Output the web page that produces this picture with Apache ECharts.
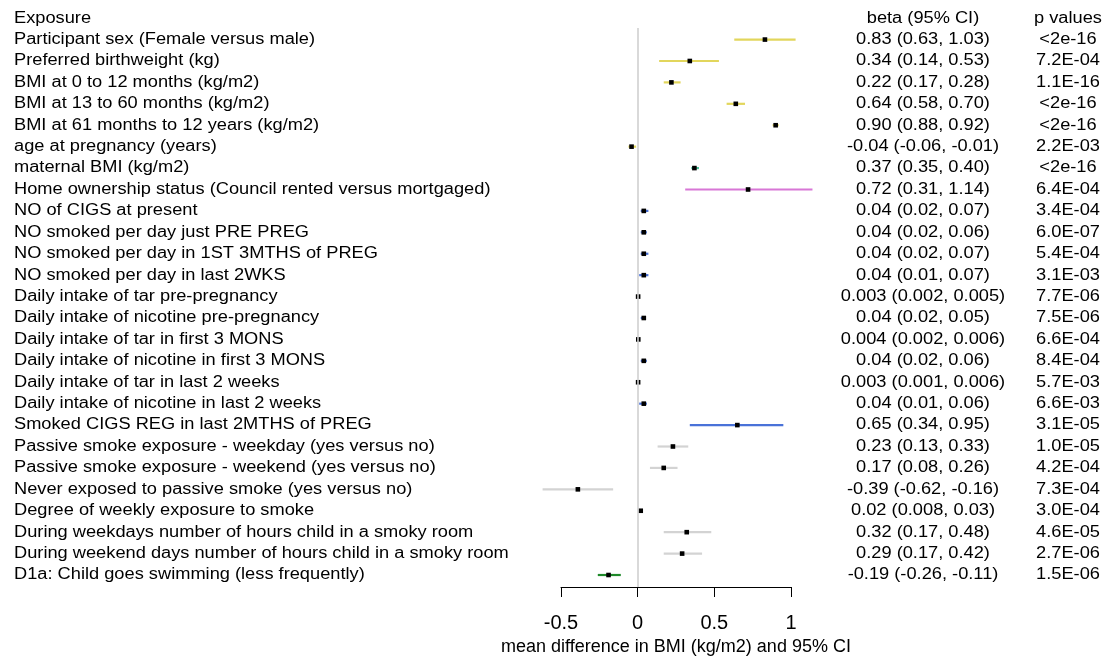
<!DOCTYPE html>
<html><head><meta charset="utf-8">
<script src="https://cdn.jsdelivr.net/npm/echarts@6/dist/echarts.min.js"></script>
<style>html,body{margin:0;padding:0;background:#fff}#c{width:1110px;height:657px}</style>
</head><body><div id="c"></div>
<script>
const exposures = [
  "Participant sex (Female versus male)",
  "Preferred birthweight (kg)",
  "BMI at 0 to 12 months (kg/m2)",
  "BMI at 13 to 60 months (kg/m2)",
  "BMI at 61 months to 12 years (kg/m2)",
  "age at pregnancy (years)",
  "maternal BMI (kg/m2)",
  "Home ownership status (Council rented versus mortgaged)",
  "NO of CIGS at present",
  "NO smoked per day just PRE PREG",
  "NO smoked per day in 1ST 3MTHS of PREG",
  "NO smoked per day in last 2WKS",
  "Daily intake of tar pre-pregnancy",
  "Daily intake of nicotine pre-pregnancy",
  "Daily intake of tar in first 3 MONS",
  "Daily intake of nicotine in first 3 MONS",
  "Daily intake of tar in last 2 weeks",
  "Daily intake of nicotine in last 2 weeks",
  "Smoked CIGS REG in last 2MTHS of PREG",
  "Passive smoke exposure - weekday (yes versus no)",
  "Passive smoke exposure - weekend (yes versus no)",
  "Never exposed to passive smoke (yes versus no)",
  "Degree of weekly exposure to smoke",
  "During weekdays number of hours child in a smoky room",
  "During weekend days number of hours child in a smoky room",
  "D1a: Child goes swimming (less frequently)"
];
const beta  = [0.83, 0.34, 0.22, 0.64, 0.90, -0.04, 0.37, 0.72, 0.04, 0.04, 0.04, 0.04, 0.003, 0.04, 0.004, 0.04, 0.003, 0.04, 0.65, 0.23, 0.17, -0.39, 0.02, 0.32, 0.29, -0.19];
const lower = [0.63, 0.14, 0.17, 0.58, 0.88, -0.06, 0.35, 0.31, 0.02, 0.02, 0.02, 0.01, 0.002, 0.02, 0.002, 0.02, 0.001, 0.01, 0.34, 0.13, 0.08, -0.62, 0.008, 0.17, 0.17, -0.26];
const upper = [1.03, 0.53, 0.28, 0.70, 0.92, -0.01, 0.40, 1.14, 0.07, 0.06, 0.07, 0.07, 0.005, 0.05, 0.006, 0.06, 0.006, 0.06, 0.95, 0.33, 0.26, -0.16, 0.03, 0.48, 0.42, -0.11];
const betaText = [
  "0.83 (0.63, 1.03)", "0.34 (0.14, 0.53)", "0.22 (0.17, 0.28)", "0.64 (0.58, 0.70)",
  "0.90 (0.88, 0.92)", "-0.04 (-0.06, -0.01)", "0.37 (0.35, 0.40)", "0.72 (0.31, 1.14)",
  "0.04 (0.02, 0.07)", "0.04 (0.02, 0.06)", "0.04 (0.02, 0.07)", "0.04 (0.01, 0.07)",
  "0.003 (0.002, 0.005)", "0.04 (0.02, 0.05)", "0.004 (0.002, 0.006)", "0.04 (0.02, 0.06)",
  "0.003 (0.001, 0.006)", "0.04 (0.01, 0.06)", "0.65 (0.34, 0.95)", "0.23 (0.13, 0.33)",
  "0.17 (0.08, 0.26)", "-0.39 (-0.62, -0.16)", "0.02 (0.008, 0.03)", "0.32 (0.17, 0.48)",
  "0.29 (0.17, 0.42)", "-0.19 (-0.26, -0.11)"
];
const pValues = [
  "<2e-16", "7.2E-04", "1.1E-16", "<2e-16", "<2e-16", "2.2E-03", "<2e-16", "6.4E-04",
  "3.4E-04", "6.0E-07", "5.4E-04", "3.1E-03", "7.7E-06", "7.5E-06", "6.6E-04", "8.4E-04",
  "5.7E-03", "6.6E-03", "3.1E-05", "1.0E-05", "4.2E-04", "7.3E-04", "3.0E-04", "4.6E-05",
  "2.7E-06", "1.5E-06"
];
const groups = [
  "early", "early", "early", "early", "early", "early", "maternal", "social",
  "smoking", "smoking", "smoking", "smoking", "smoking", "smoking", "smoking", "smoking",
  "smoking", "smoking", "smoking", "passive", "passive", "passive", "passive", "passive",
  "passive", "activity"
];
const headers = ["Exposure", "beta (95% CI)", "p values"];
const xTicks = [-0.5, 0, 0.5, 1];
const xTitle = "mean difference in BMI (kg/m2) and 95% CI";

const groupColor = {
  early: "#e2d65c", maternal: "#4fc29a", social: "#d877d6",
  smoking: "#4a72d8", passive: "#d3d3d3", activity: "#1f8a2a"
};
const FAMILY = '"Liberation Sans", Arial, sans-serif';
const FONT = '16px ' + FAMILY;
const SX = 1.14;
const LABEL_X = 14, BETA_X = 923, P_X = 1068;

const ciData = beta.map((b, i) => [b, i, lower[i], upper[i]]);
const textData = exposures.map((e, i) => [0, i]);

function txt(x, y, t, al) {
  return {type: 'text', x: x, y: y, scaleX: SX, scaleY: 1,
    style: {text: t, font: FONT, fill: '#000', align: al, verticalAlign: 'middle',
            textAlign: al, textVerticalAlign: 'middle'}};
}

const chart = echarts.init(document.getElementById('c'), null, {renderer: 'canvas'});
chart.setOption({
  animation: false,
  backgroundColor: '#fff',
  grid: {left: 561, right: 319, top: 28, bottom: 70, containLabel: false, outerBoundsMode: 'none'},
  xAxis: {
    type: 'value', position: 'bottom', min: xTicks[0], max: xTicks[xTicks.length - 1], interval: 0.5,
    axisLine: {show: true, onZero: false, lineStyle: {color: '#000', width: 1}},
    axisTick: {show: true, length: 10, lineStyle: {color: '#000', width: 1}},
    splitLine: {show: false},
    axisLabel: {
      color: '#000', fontSize: 20, fontFamily: FAMILY, margin: 26,
      formatter: v => String(v)
    },
    name: xTitle, nameLocation: 'middle', nameGap: 50,
    nameTextStyle: {color: '#000', fontSize: 18, fontFamily: FAMILY}
  },
  yAxis: {type: 'value', inverse: true, min: -0.54, max: 25.56, show: false},
  series: [
    {
      type: 'custom', clip: false, silent: true,
      data: ciData,
      renderItem: function (params, api) {
        const i = api.value(1);
        const p1 = api.coord([api.value(2), i]);
        const p2 = api.coord([api.value(3), i]);
        const pc = api.coord([api.value(0), i]);
        const col = groupColor[groups[i]];
        return {
          type: 'group',
          children: [
            {type: 'line', shape: {x1: p1[0], y1: p1[1], x2: p2[0], y2: p2[1]},
             style: {stroke: col, lineWidth: 2.2}},
            {type: 'rect', shape: {x: pc[0] - 2.3, y: pc[1] - 2.3, width: 4.6, height: 4.6},
             style: {fill: '#000'}}
          ]
        };
      },
      markLine: {
        silent: true, symbol: 'none', animation: false,
        label: {show: false},
        lineStyle: {color: '#d0d0d0', type: 'solid', width: 1.6},
        data: [{xAxis: 0}]
      },
      z: 3
    },
    {
      type: 'custom', clip: false, silent: true,
      data: textData,
      renderItem: function (params, api) {
        const i = api.value(1);
        const y = api.coord([0, i])[1];
        const els = [txt(LABEL_X, y, exposures[i], 'left'), txt(BETA_X, y, betaText[i], 'center'), txt(P_X, y, pValues[i], 'center')];
        if (i === 0) {
          const yh = api.coord([0, -1])[1];
          els.push(txt(LABEL_X, yh, headers[0], 'left'));
          els.push(txt(BETA_X, yh, headers[1], 'center'));
          els.push(txt(P_X, yh, headers[2], 'center'));
        }
        return {type: 'group', children: els};
      }
    }
  ]
});
</script></body></html>
